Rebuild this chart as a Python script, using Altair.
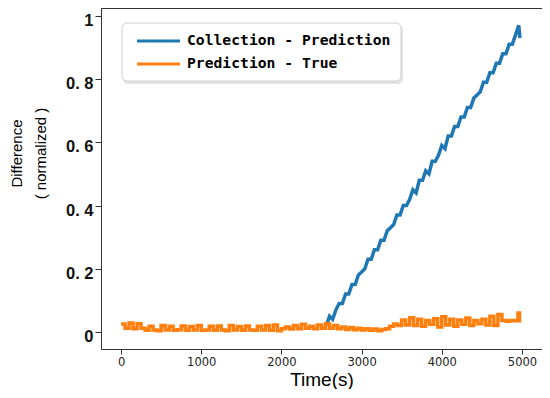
import altair as alt
import pandas as pd

series_names = ["Collection - Prediction", "Prediction - True"]
series_colors = ["#1f77b4", "#ff7f0e"]

blue_t = list(range(2560, 4961, 40)) + [4975]
blue_v = [0.02, 0.05, 0.04, 0.07, 0.09, 0.09, 0.12, 0.12, 0.15, 0.15,
          0.18, 0.19, 0.20, 0.23, 0.23, 0.26, 0.26, 0.29, 0.29, 0.32,
          0.33, 0.34, 0.37, 0.37, 0.40, 0.40, 0.42, 0.45, 0.44, 0.48,
          0.48, 0.51, 0.50, 0.54, 0.54, 0.56, 0.59, 0.58, 0.62, 0.62,
          0.65, 0.65, 0.68, 0.68, 0.71, 0.71, 0.74, 0.75, 0.76, 0.79,
          0.79, 0.82, 0.82, 0.85, 0.85, 0.88, 0.88, 0.91, 0.91, 0.94,
          0.97, 0.93]

orange_t = list(range(0, 5000, 50)) + [4970]
orange_v = [0.025, 0.012, 0.028, 0.010, 0.026, 0.012,
            0.005, 0.018, 0.006, 0.004, 0.020, 0.006, 0.018, 0.005, 0.007, 0.019,
            0.005, 0.017, 0.006, 0.020, 0.005, 0.006, 0.018, 0.005, 0.019, 0.006,
            0.004, 0.020, 0.006, 0.017, 0.005, 0.019, 0.006, 0.005, 0.018, 0.006,
            0.020, 0.005, 0.022, 0.004,
            0.010, 0.016, 0.009, 0.020, 0.010, 0.024, 0.012, 0.018, 0.010, 0.022,
            0.012, 0.026, 0.012, 0.020, 0.010, 0.016, 0.008, 0.014, 0.007, 0.012,
            0.006, 0.010, 0.005, 0.009, 0.004, 0.008, 0.010,
            0.018, 0.025, 0.020, 0.038, 0.022, 0.045, 0.020, 0.040, 0.018, 0.036,
            0.024, 0.042, 0.016, 0.048, 0.022, 0.040, 0.018, 0.038, 0.024, 0.044,
            0.020, 0.036, 0.026, 0.040, 0.022, 0.050, 0.020,
            0.055, 0.036, 0.034, 0.036, 0.035, 0.060, 0.030]

x_ticks = [0, 1000, 2000, 3000, 4000, 5000]
y_ticks = [0, 0.2, 0.4, 0.6, 0.8, 1]

blue_df = pd.DataFrame({"t": blue_t, "v": blue_v, "s": series_names[0]})
orange_df = pd.DataFrame({"t": orange_t, "v": orange_v, "s": series_names[1]})

xscale = alt.Scale(domain=[-250, 5250], nice=False, zero=False)
yscale = alt.Scale(domain=[-0.054, 1.025], nice=False, zero=False)

x_axis = alt.Axis(
    values=x_ticks, format="d", grid=False, title="Time(s)",
    labelFont="DejaVu Sans", labelFontSize=11.5, labelColor="#222",
    tickSize=5, labelPadding=2, domainColor="#333", tickColor="#333",
    titleFont="Liberation Sans", titleFontSize=19, titleFontWeight="normal",
    titleColor="#000", titleBaseline="alphabetic", titleY=36,
)
y_axis = alt.Axis(
    values=y_ticks, grid=False,
    title=["Difference", "(  normalized  )"],
    labelExpr="datum.value == 0 ? '0' : (datum.value == 1 ? '1' : replace(format(datum.value, '.1f'), '.', '. '))",
    labelFont="Liberation Sans", labelFontSize=16.5, labelFontWeight="bold",
    labelColor="#111", labelBaseline="alphabetic", labelOffset=9.5,
    tickSize=6, labelPadding=2, domainColor="#333", tickColor="#333",
    titleFont="Liberation Sans", titleFontSize=15, titleFontWeight="normal",
    titleColor="#000", titleAngle=270, titleAlign="center", titleBaseline="top",
    titleX=-92, titleY=145, titleLineHeight=24,
)

blue_line = alt.Chart(blue_df).mark_line(color=series_colors[0], strokeWidth=3.5).encode(
    x=alt.X("t:Q", scale=xscale, axis=x_axis),
    y=alt.Y("v:Q", scale=yscale, axis=y_axis),
)
orange_line = alt.Chart(orange_df).mark_line(
    color=series_colors[1], strokeWidth=3.5, interpolate="step-after"
).encode(
    x=alt.X("t:Q", scale=xscale),
    y=alt.Y("v:Q", scale=yscale),
)

one = pd.DataFrame({"k": [0]})
legend_shadow = alt.Chart(one).mark_rect(fill="#d8d8d8", cornerRadius=5, opacity=0.7).encode(
    x=alt.value(22), x2=alt.value(302), y=alt.value(17), y2=alt.value(76)
)
legend_box = alt.Chart(one).mark_rect(fill="white", stroke="#cfcfcf", strokeWidth=1, cornerRadius=5).encode(
    x=alt.value(21), x2=alt.value(300), y=alt.value(15), y2=alt.value(73)
)
leg_line1 = alt.Chart(one).mark_rule(color=series_colors[0], strokeWidth=3).encode(
    x=alt.value(36), x2=alt.value(79), y=alt.value(33)
)
leg_line2 = alt.Chart(one).mark_rule(color=series_colors[1], strokeWidth=3).encode(
    x=alt.value(36), x2=alt.value(79), y=alt.value(56)
)
leg_text1 = alt.Chart(one).mark_text(
    text=series_names[0], font="DejaVu Sans Mono", fontSize=14.7, fontWeight="bold",
    align="left", baseline="middle", color="#000"
).encode(x=alt.value(86), y=alt.value(33))
leg_text2 = alt.Chart(one).mark_text(
    text=series_names[1], font="DejaVu Sans Mono", fontSize=14.7, fontWeight="bold",
    align="left", baseline="middle", color="#000"
).encode(x=alt.value(86), y=alt.value(56))

chart = alt.layer(
    blue_line, orange_line, legend_shadow, legend_box, leg_line1, leg_line2, leg_text1, leg_text2
).properties(
    width=441, height=341,
    autosize=alt.AutoSizeParams(type="none"),
    padding={"left": 93, "top": 0, "right": 0, "bottom": 40},
).configure_view(stroke="#333", strokeWidth=1)

chart.save("out.html", embed_options={"renderer": "svg", "actions": False})
